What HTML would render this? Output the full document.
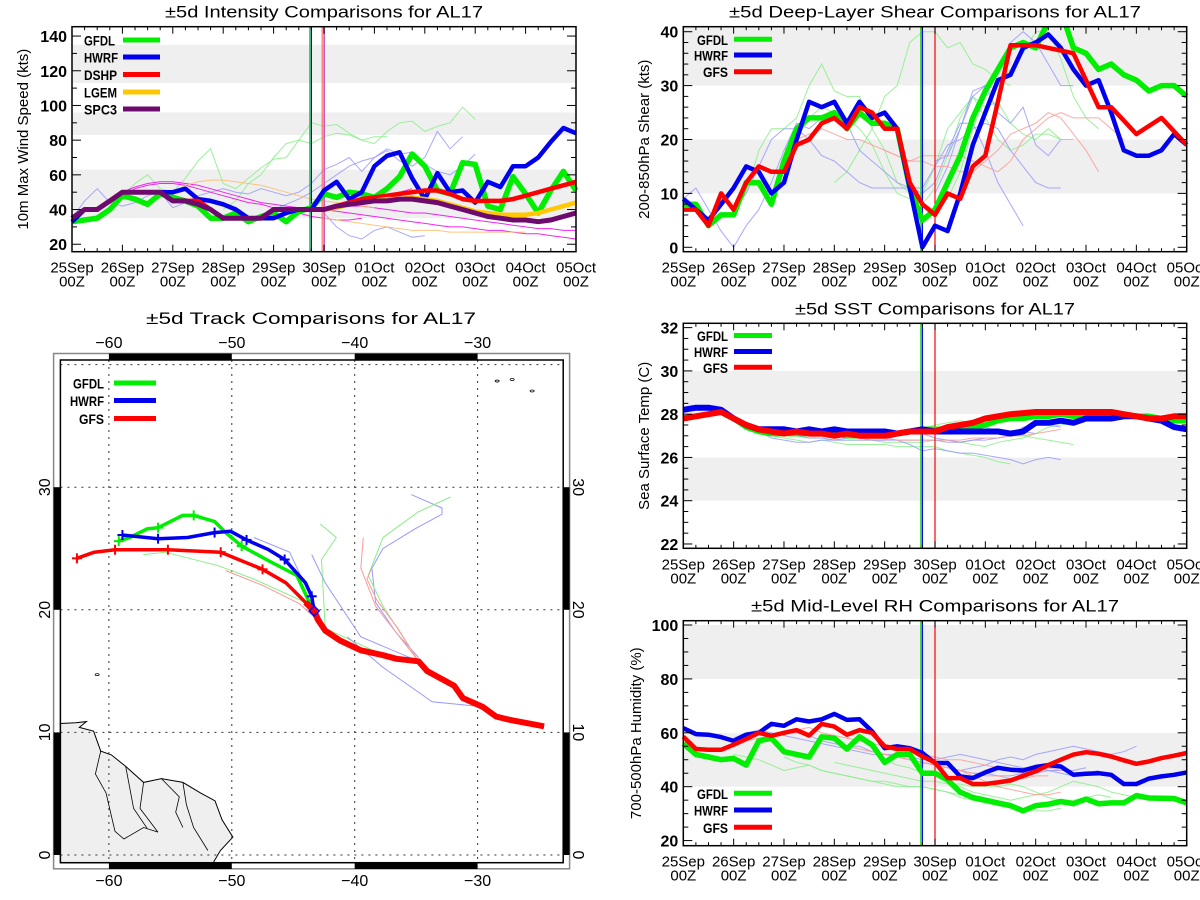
<!DOCTYPE html>
<html><head><meta charset="utf-8"><title>AL17 comparisons</title>
<style>
html,body{margin:0;padding:0;background:#fff;}
svg{display:block;font-family:"Liberation Sans",sans-serif;}
</style></head>
<body>
<svg id="root" xmlns="http://www.w3.org/2000/svg" width="1200" height="900" viewBox="0 0 1200 900">
<rect x="0" y="0" width="1200" height="900" fill="#fff"/>
</svg>
<script>
// ---------- DATA (6-hourly, index 0 = 25Sep 00Z, 40 = 05Oct 00Z) ----------
const dateLabels = ["25Sep","26Sep","27Sep","28Sep","29Sep","30Sep","01Oct","02Oct","03Oct","04Oct","05Oct"];
// Intensity (kts)
const intGFDL = [33,34,35,40,48,46,43,49,47,45,42,35,35,38,33,36,38,33,39,41,49,47,50,49,47,52,59,72,65,51,49,67,66,42,40,59,49,38,51,62,51];
const intHWRF = [33,40,40,45,50,50,50,50,50,52,46,45,43,40,35,35,35,38,40,40,51,56,46,50,65,71,73,58,46,61,50,51,44,56,53,65,65,70,79,87,84];
const intDSHP = [35,40,40,45,50,50,50,50,45,45,45,40,35,35,35,35,40,40,40,40,40,42,44,46,47,48,49,50,51,51,49,46,45,45,45,46,48,50,52,54,56];
const intLGEM = [null,null,null,null,null,null,null,null,null,null,null,null,null,null,null,null,null,null,null,null,40,41,43,44,45,46,46,47,46,45,43,41,39,38,37,37,37,38,40,42,44];
const intSPC3 = [35,40,40,45,50,50,50,50,45,45,43,40,35,35,35,35,40,40,40,40,40,42,43,44,45,45,46,46,45,44,42,40,38,36,35,34,34,33,34,36,38];
const intThinStart = [4,12,0,16,20,4,4,20,20,8,20];
const intThinColor = ["#8e8","#8e8","#99f","#99f","#99f","#e0e","#e0e","#e0e","#e0e","#fb6","#fb6"];
const intThinVals = [
 [48,55,60,52,50,58,68,75,55,52,58,64,69,70,80,90,88,89,84,80,82,82],
 [40,45,55,60,70,78,80,78,82,84,83,80,78,85,90,91,85,88,90,99,92],
 [35,45,52,44,42,44,48,50,41,44,48,50,52,50,49,52,50,48,50,55,63,66,70,62,70,74,68,65,70,85,75,82],
 [40,43,46,50,55,60,65,68,70,75,72,73,66,62,60,65,72],
 [38,30,25,23,28,30,27,24,25],
 [50,53,55,56,56,55,54,52,50,48,46,44,43,42,41,40,40,41,42,44,46,48,50,52],
 [48,52,54,55,55,54,52,50,48,46,44,43,41,40,38,36,35,34,34,35],
 [40,39,38,37,36,35,34,33,32,31,30,30,29,28,28,27,26,26,25,24,23],
 [40,41,42,42,41,40,39,38,38,37,36,35,34,33,32,31,30,29,29,28,28],
 [50,54,56,57,57,56,55,54,52,50,48,46,45,44,43,42,41],
 [35,34,33,32,31,30,29,28,28,28,27,27,27,27,27,27,27]
];
// Shear (kts)
const shrGFDL = [8,8,4,6,6,12,12,8,16,22,24,24,25,22,25,23,23,22,11,5,7,12,17,24,29,33,37,38,37,42,44,37,36,33,34,32,31,29,30,30,28];
const shrHWRF = [9,7,5,8,11,15,14,10,12,20,27,26,27,23,27,24,25,22,11,0,4,3,10,19,25,31,32,37,38,39.5,37,33,30,31,25,18,17,17,18,21,19];
const shrGFS  = [7,7,4,10,7,12,15,14,14,19,20,23,24,22,26,25,22,22,12,8,6,10,9,15,17,27,37.5,37.5,37.5,37,36.5,36,31,26,26,23.5,21,22.5,24,21.5,19];
const shrThinStart = [4,8,12,18,0,4,20,20,16,8];
const shrThinColor = ["#8e8","#8e8","#8e8","#8e8","#99f","#99f","#99f","#99f","#f99","#f99"];
const shrThinVals = [
 [7,10,18,22,22,24,30,34,29,28,28,22,18,12,10,8,7,9,14,22,28,30,33,36,40,40,35,28,24,22],
 [18,20,24,26,25,24,22,19,14,10,9,8,11,17,24,28,26,27,23,21,20,22,20,20],
 [12,14,18,22,28,30,38,40,40,37,38,34,33,31,30],
 [9,10,15,22,25,28,24,20,18,19,21,21,20,20],
 [9,11,7,3,0,4,7,12,18,23,22,24,25,23,18,16,14,12,11,11,15,19,20,22,23,22,18,15,12,11,11],
 [7,10,15,20,22,22,20,17,16,14,12,11,11,11,11,10,12,18,23,23,18,12,8,4],
 [10,15,22,29,30,25,23,26,19,17,20],
 [16,17,22,28,30,32,38,40,38,34,30,30],
 [18,17,16,17,17,17,17,16,15,14,16,20,22,24,25,24,24,24,22,20],
 [18,20,21,22,21,20,20,19,18,17,16,16,15,15,14,14,16,18,21,22,23,25,24,21,18,14]
];
// SST (C)
const sstGFDL = [27.8,27.9,28.0,28.1,27.8,27.4,27.2,27.1,27.1,27.1,27.1,27.1,27.1,27.0,27.0,27.0,27.0,27.1,27.2,27.3,27.3,27.3,27.3,27.4,27.5,27.7,27.8,27.8,27.9,27.9,28.0,27.9,28.0,28.0,28.0,28.0,27.9,27.9,27.8,27.7,27.7];
const sstHWRF = [28.2,28.3,28.3,28.2,27.8,27.5,27.3,27.3,27.3,27.2,27.3,27.2,27.3,27.2,27.2,27.2,27.2,27.1,27.2,27.3,27.2,27.2,27.2,27.2,27.2,27.2,27.1,27.2,27.6,27.6,27.7,27.6,27.8,27.8,27.8,27.9,27.9,27.8,27.7,27.4,27.3];
const sstGFS  = [27.8,27.9,28.0,28.1,27.8,27.5,27.3,27.2,27.1,27.2,27.1,27.1,27.0,27.1,27.0,27.0,27.0,27.1,27.2,27.2,27.2,27.4,27.5,27.6,27.8,27.9,28.0,28.05,28.1,28.1,28.1,28.1,28.1,28.1,28.1,28.0,27.9,27.8,27.8,27.9,27.9];
const sstThinStart = [4,8,12,16,4,8,16];
const sstThinColor = ["#8e8","#8e8","#8e8","#99f","#99f","#99f","#f99"];
const sstThinVals = [
 [27.8,27.4,27.1,27.0,26.9,26.8,26.7,26.8,26.7,26.6,26.6,26.6,26.6,26.5,26.5,26.5,26.5,26.3,26.2,26.1,26.0,25.8,25.7],
 [27.1,27.0,26.9,26.9,26.8,26.8,26.8,26.8,26.7,26.7,26.7,26.7,26.8,26.8,26.7,26.6,26.5,26.7,26.8,26.9,27.1,27.4,27.5,27.6,27.7,27.8],
 [27.1,27.0,27.0,26.9,26.9,27.0,27.2,27.3,27.5,27.6,27.7,27.6,27.4,27.2,27.0,27.0,26.9,26.8,26.7,26.6],
 [26.9,26.8,26.6,26.3,26.4,26.3,26.2,26.2,26.1,26.0,25.9,25.7,25.9,26.0,25.9],
 [27.8,27.5,27.2,26.9,26.8,26.7,26.7,26.8,26.8,26.9,26.9,26.8,26.8,27.0,27.2,27.1,26.9,26.8,26.7,26.8,26.8,26.9,27.0,27.4,27.5,27.5,27.4],
 [27.1,27.0,26.9,26.9,26.8,26.8,26.8,26.8,26.8,26.8,26.8,26.8,26.8,26.7,26.7,26.8,26.9,26.9,27.0,27.2,27.1],
 [26.9,26.8,26.8,26.8,26.8,26.8,26.8,26.9,26.9,26.9,27.0,27.0,27.1,27.2,27.3]
];
// Mid-level RH (%)
const rhGFDL = [56,52,51,50,50.5,48,57,58,53,52,51,58.5,58,54,58.5,55.5,49,52,52,45,45,42.5,38,36,35,34,33,31,33,33.5,34.5,33.7,35.4,33.7,34,34,36.7,35.8,35.7,35.6,34];
const rhHWRF = [61.7,59.5,59.3,58.4,57,59.3,60,63.3,62.6,65,64.2,65,67,64.8,65,60.5,54.3,55,54.3,52.5,48.8,48.8,43.8,43.2,45.3,47,46.3,46,47.3,48,47.5,44.4,44.8,45,44.4,41,41,43,43.8,44.4,45.3];
const rhGFS  = [58.6,54,53.7,53.7,55.6,57.7,60,58.9,60,61,59,63.3,62.3,59.3,61,60,55,54,54,51.2,49,43.2,43.2,41,41,41.6,42.3,44,45.7,48,50,51.9,52.8,52.2,51.2,49.8,48.5,49.4,50.6,51.5,52.5];
const rhThinStart = [4,8,12,16,4,8,16,4,12,16];
const rhThinColor = ["#8e8","#8e8","#8e8","#8e8","#99f","#99f","#99f","#f99","#f99","#f99"];
const rhThinVals = [
 [52,51,50,48,46,47,48,46,45,44,43,42,41,40,40,40,39,38,37],
 [51,49,48,46,45,44,43,42,42,41,40,40,39,38,36,35,34,33,32,31,31,31,32],
 [49,48,47,46,45,44,43,42,42,41,41,40,40,40,41,40,38,36,35,35,36,37,36],
 [50,48,47,45,44,42,40,38,37,36,35,36,37,38,40,42,41,40,38,37,36],
 [58,60,61,60,59,58,57,56,55,54,53,52,52,51,50,49,48,47,46,47,48,50,51,50,52,53,54,55,54,53,52,53,55],
 [60,60,59,57,56,55,55,53,52,52,51,50,50,51,52,51,50,49,48,47,47,46,45,44,45,46],
 [52,51,50,49,48,47,46,45,45,44,44,45,45,46,46,46,47],
 [56,57,58,59,60,61,62,60,59,58,57,56,55,54,53,52,51,50,50,49,48,47,46,45,46,47,46],
 [57,55,54,53,52,51,50,49,48,47,46,44,42,40,39,38,37,37,38],
 [52,51,50,49,48,47,46,45,44,44,43,43,44,44]
];
// Tracks (lon, lat)
const trkGFSLon  = [-24.6,-27.3,-28.5,-29.6,-31.2,-31.9,-34.1,-34.8,-36.6,-37.7,-39.5,-41.2,-42.4,-43.0,-43.3,-44.0,-45.6,-47.5,-50.9,-55.2,-59.5,-61.2,-62.6];
const trkGFSLat  = [10.5,11.0,11.3,12.1,12.8,13.8,15.0,15.8,16.0,16.3,16.7,17.5,18.3,19.2,19.9,20.6,22.2,23.3,24.7,24.9,24.9,24.7,24.2];
const trkHWRFLon = [-24.6,-27.3,-28.5,-29.6,-31.2,-31.9,-34.1,-34.8,-36.6,-37.7,-39.5,-41.2,-42.4,-43.0,-43.3,-43.5,-44.0,-45.7,-47.0,-48.8,-50.1,-51.4,-53.6,-56.0,-58.9];
const trkHWRFLat = [10.5,11.0,11.3,12.1,12.8,13.8,15.0,15.8,16.0,16.3,16.7,17.5,18.3,19.2,19.9,21.1,22.2,24.1,24.9,25.7,26.4,26.3,25.9,25.8,26.1];
const trkGFDLLon = [-24.6,-27.3,-28.5,-29.6,-31.2,-31.9,-34.1,-34.8,-36.6,-37.7,-39.5,-41.2,-42.4,-43.0,-43.6,-44.7,-47.2,-49.2,-50.5,-51.4,-53.1,-54.0,-56.0,-56.9,-58.3,-59.2];
const trkGFDLLat = [10.5,11.0,11.3,12.1,12.8,13.8,15.0,15.8,16.0,16.3,16.7,17.5,18.3,19.2,20.4,22.8,24.1,25.2,26.3,27.2,27.7,27.7,26.7,26.6,25.9,25.6];
const trkGFSMarks = [17,18,19,20,22];
const trkHWRFMarks = [15,17,19,21,23,24];
const trkGFDLMarks = [17,20,22,25];
const thinTrkColor = ["#99f","#8e8","#f99","#8e8","#99f","#99f","#8e8","#99f","#f99","#f99"];
const thinTrkLon = [
 [-34.8,-36.6,-38.3,-38.6,-37.7,-35.1,-32.9,-32.9,-35.4],
 [-34.8,-37.7,-38.9,-37.7,-34.8,-32.2],
 [-34.8,-38.3,-39.5,-39.3],
 [-37.7,-42.4,-42.7,-41.5,-42.8],
 [-34.8,-39.5,-42.4,-43.5],
 [-42.4,-45.3,-48.2],
 [-44.0,-48.2,-51.1,-55.4,-57.2],
 [-29.6,-33.7,-37.7,-40.6],
 [-34.8,-36.5,-38.2,-39.0,-38.6],
 [-41.2,-44.5,-47.5,-50.5]
];
const thinTrkLat = [
 [16.1,18.1,20.6,23.4,25.0,26.6,27.8,28.3,29.4],
 [15.8,20.3,22.8,25.9,28.0,29.2],
 [15.8,20.3,23.4,25.9],
 [16.3,18.5,24.1,25.9,27.0],
 [15.8,17.8,22.2,24.5],
 [18.5,24.7,25.9],
 [20.6,22.5,23.6,24.7,24.5],
 [12.1,12.5,15.3,17.8],
 [15.8,18.5,20.8,22.5,23.4],
 [17.5,20.5,22.0,23.2]
];
// ---------- DRAWING ----------
const NS = "http://www.w3.org/2000/svg";
const root = document.getElementById("root");
function el(tag, attrs, parent) {
  const e = document.createElementNS(NS, tag);
  for (const k in attrs) e.setAttribute(k, attrs[k]);
  (parent || root).appendChild(e);
  return e;
}
function txt(s, attrs, parent) { const t = el("text", attrs, parent); t.textContent = s; return t; }
const legLen = {GFDL: 31, HWRF: 34, DSHP: 33, LGEM: 33, SPC3: 33, GFS: 25};

function timePanel(cfg) {
  const g = el("g", {});
  
  
  const X0 = cfg.x0, X1 = cfg.x1, Y0 = cfg.y0, Y1 = cfg.y1;
  const sx = i => X0 + (X1 - X0) * (i / 40);
  const sy = v => Y1 - (v - cfg.vmin) / (cfg.vmax - cfg.vmin) * (Y1 - Y0);
  cfg.bands.forEach(b => {
    const r = el("rect", {x: X0, y: sy(Math.min(b[1], cfg.vmax)), width: X1 - X0, height: sy(b[0]) - sy(Math.min(b[1], cfg.vmax)), fill: "#efefef"}, g);
    
    
  });
  cfg.thin.vals.forEach((arr, k) => {
    const pts = arr.map((v, j) => sx(cfg.thin.start[k] + j).toFixed(1) + "," + sy(v).toFixed(1)).join(" ");
    const p = el("polyline", {points: pts, fill: "none", stroke: cfg.thin.color[k], "stroke-width": 1, opacity: 0.85}, g);
    
    
  });
  const vl = (day, col, w, op) => {
    const l = el("line", {x1: X0 + (X1 - X0) * day / 10, x2: X0 + (X1 - X0) * day / 10, y1: Y0, y2: Y1, stroke: col, "stroke-width": w, opacity: op}, g);
    
    
  };
  if (cfg.redBand) { vl(4.985, "#f66", 3.5, 0.75); vl(5.01, "#b5b", 1, 0.8); }
  else vl(5.0, "#f00", 1.2, 1);
  vl(4.72, "#0c0", 1.2, 1);
  vl(4.75, "#00f", 1.2, 1);
  cfg.series.forEach(s => {
    let segs = [], cur = [];
    s.vals.forEach((v, i) => {
      if (v === null) { if (cur.length) segs.push(cur); cur = []; }
      else cur.push(sx(i).toFixed(1) + "," + sy(v).toFixed(1));
    });
    if (cur.length) segs.push(cur);
    segs.forEach(sg => {
      const p = el("polyline", {points: sg.join(" "), fill: "none", stroke: s.color, "stroke-width": s.w || 4.5, "stroke-linejoin": "round"}, g);
      
      
    });
  });
  el("rect", {x: X0 - 1, y: Y0 - 30, width: X1 - X0 + 2, height: 29.5, fill: "#fff"}, g);
  const fr = el("rect", {x: X0, y: Y0, width: X1 - X0, height: Y1 - Y0, fill: "none", stroke: "#000", "stroke-width": 1.5}, g);
  
  
  for (let i = 0; i <= 40; i++) {
    const x = sx(i), L = i % 4 === 0 ? 7 : 3.5;
    el("line", {x1: x, x2: x, y1: Y1, y2: Y1 - L, stroke: "#000", "stroke-width": 1}, g);
    el("line", {x1: x, x2: x, y1: Y0, y2: Y0 + L, stroke: "#000", "stroke-width": 1}, g);
  }
  dateLabels.forEach((d, k) => {
    const x = X0 + (X1 - X0) * k / 10;
    const t1 = txt(d, {x: x, y: Y1 + 21, "text-anchor": "middle", "font-size": 15}, g);
    
    
    const t2 = txt("00Z", {x: x, y: Y1 + 35, "text-anchor": "middle", "font-size": 15}, g);
    
    
  });
  for (let v = cfg.tick0; v <= cfg.vmax + 1e-6; v += cfg.minor) {
    if (v < cfg.vmin) continue;
    const y = sy(v), major = Math.abs(((v - cfg.tick0) / cfg.major) - Math.round((v - cfg.tick0) / cfg.major)) < 1e-6;
    const L = major ? 9 : 5;
    el("line", {x1: X0, x2: X0 + L, y1: y, y2: y, stroke: "#000", "stroke-width": 1}, g);
    el("line", {x1: X1, x2: X1 - L, y1: y, y2: y, stroke: "#000", "stroke-width": 1}, g);
    if (major) {
      const t = txt(String(v), {x: X0 - 5, y: y + 6, "text-anchor": "end", "font-size": 16, "font-weight": "bold"}, g);
      
      
    }
  }
  const ttl = txt(cfg.title, {x: (X0 + X1) / 2, y: Y0 - 9, "text-anchor": "middle", "font-size": 17, textLength: cfg.titleLen, lengthAdjust: "spacingAndGlyphs"}, g);
  
  
  const yc = (Y0 + Y1) / 2;
  const yl = txt(cfg.ylabel, {x: cfg.ylx, y: yc, "text-anchor": "middle", "font-size": 15, transform: `rotate(-90 ${cfg.ylx} ${yc})`, "dominant-baseline": "middle"}, g);
  
  
  cfg.legend.forEach((e, k) => {
    const y = cfg.legY[k];
    const lg = el("g", {}, g);
    
    
    txt(e.label, {x: cfg.legTextX, y: y + 5.5, "text-anchor": cfg.legAnchor, "font-size": 14, "font-weight": "bold", textLength: legLen[e.label], lengthAdjust: "spacingAndGlyphs"}, lg);
    el("line", {x1: cfg.legLine[0], x2: cfg.legLine[1], y1: y, y2: y, stroke: e.color, "stroke-width": 5}, lg);
  });
}

const GREEN = "#00ee00", BLUE = "#0000ee", RED = "#ff0000", ORANGE = "#ffc800", PURPLE = "#6e0a6e";

timePanel({name: "intensity-panel", x0: 72, x1: 576, y0: 26.7, y1: 251.7, vmin: 15.7, vmax: 145.4,
  tick0: 20, major: 20, minor: 10, bands: [[35, 63], [83, 96], [113, 135]],
  title: "±5d Intensity Comparisons for AL17", titleLen: 318, ylabel: "10m Max Wind Speed (kts)", ylx: 24, redBand: true,
  thin: {start: intThinStart, color: intThinColor, vals: intThinVals},
  series: [{label: "GFDL", color: GREEN, vals: intGFDL, w: 5.5}, {label: "HWRF", color: BLUE, vals: intHWRF}, {label: "DSHP", color: RED, vals: intDSHP},
           {label: "LGEM", color: ORANGE, vals: intLGEM}, {label: "SPC3", color: PURPLE, vals: intSPC3, w: 5}],
  legend: [{label: "GFDL", color: GREEN}, {label: "HWRF", color: BLUE}, {label: "DSHP", color: RED}, {label: "LGEM", color: ORANGE}, {label: "SPC3", color: PURPLE}],
  legY: [40, 57, 74.5, 92, 109], legTextX: 84, legAnchor: "start", legLine: [123, 160]});

timePanel({name: "shear-panel", x0: 683.3, x1: 1186.7, y0: 26.7, y1: 251.7, vmin: -0.82, vmax: 40.93,
  tick0: 0, major: 10, minor: 2, bands: [[10, 20], [30, 41]],
  title: "±5d Deep-Layer Shear Comparisons for AL17", titleLen: 412, ylabel: "200-850hPa Shear (kts)", ylx: 645,
  thin: {start: shrThinStart, color: shrThinColor, vals: shrThinVals},
  series: [{label: "GFDL", color: GREEN, vals: shrGFDL, w: 5.5}, {label: "HWRF", color: BLUE, vals: shrHWRF}, {label: "GFS", color: RED, vals: shrGFS}],
  legend: [{label: "GFDL", color: GREEN}, {label: "HWRF", color: BLUE}, {label: "GFS", color: RED}],
  legY: [39.3, 55, 71.7], legTextX: 728, legAnchor: "end", legLine: [734, 772]});

timePanel({name: "sst-panel", x0: 683.3, x1: 1186.7, y0: 323.3, y1: 548.3, vmin: 21.8, vmax: 32.2,
  tick0: 22, major: 2, minor: 0.5, bands: [[24, 26], [28, 30]],
  title: "±5d SST Comparisons for AL17", titleLen: 280, ylabel: "Sea Surface Temp (C)", ylx: 645,
  thin: {start: sstThinStart, color: sstThinColor, vals: sstThinVals},
  series: [{label: "GFDL", color: GREEN, vals: sstGFDL, w: 5.5}, {label: "HWRF", color: BLUE, vals: sstHWRF, w: 6}, {label: "GFS", color: RED, vals: sstGFS, w: 6}],
  legend: [{label: "GFDL", color: GREEN}, {label: "HWRF", color: BLUE}, {label: "GFS", color: RED}],
  legY: [335.5, 351.5, 367.3], legTextX: 728, legAnchor: "end", legLine: [734, 772]});

timePanel({name: "rh-panel", x0: 683.3, x1: 1186.7, y0: 620.7, y1: 845.7, vmin: 18.1, vmax: 101.6,
  tick0: 20, major: 20, minor: 5, bands: [[40, 60], [80, 100]],
  title: "±5d Mid-Level RH Comparisons for AL17", titleLen: 368, ylabel: "700-500hPa Humidity (%)", ylx: 637,
  thin: {start: rhThinStart, color: rhThinColor, vals: rhThinVals},
  series: [{label: "GFDL", color: GREEN, vals: rhGFDL, w: 5.5}, {label: "HWRF", color: BLUE, vals: rhHWRF}, {label: "GFS", color: RED, vals: rhGFS}],
  legend: [{label: "GFDL", color: GREEN}, {label: "HWRF", color: BLUE}, {label: "GFS", color: RED}],
  legY: [793.3, 810, 827.3], legTextX: 728, legAnchor: "end", legLine: [734, 772]});

// ---------- TRACK MAP ----------
(function () {
  const g = el("g", {});
  
  
  const IX0 = 60.4, IX1 = 563.2, IY0 = 360, IY1 = 862.7;
  const px = lon => 108.9 + (lon + 60) * 12.29;
  const py = lat => 855 - lat * 12.26;
  const zp = (zx, zy) => [40 + zx / 2.8, 300 + zy / 2.616];
  const landZ = [[57,1108],[100,1106],[130,1103],[110,1118],[150,1128],[170,1180],[200,1190],[240,1220],[290,1262],[340,1252],[400,1262],[450,1290],[490,1310],[510,1360],[540,1405],[505,1440],[485,1472],[57,1472]];
  const land = el("polygon", {points: landZ.map(p => zp(p[0], p[1]).map(v => v.toFixed(1)).join(",")).join(" "), fill: "#efefef", stroke: "#000", "stroke-width": 1}, g);
  
  
  const borders = [[[170,1180],[155,1240],[185,1290],[195,1330],[210,1390],[235,1410],[290,1380],[330,1392]],
                   [[240,1220],[262,1330],[300,1382]],
                   [[290,1262],[280,1330],[330,1392]],
                   [[340,1252],[390,1300],[380,1340],[400,1380]],
                   [[400,1262],[410,1320],[430,1380],[470,1440]]];
  borders.forEach(b => {
    const l = el("polyline", {points: b.map(p => zp(p[0], p[1]).map(v => v.toFixed(1)).join(",")).join(" "), fill: "none", stroke: "#000", "stroke-width": 0.8}, g);
    
    
  });
  [[1280,212],[1322,208],[1378,238],[160,980]].forEach(p => {
    const q = zp(p[0], p[1]);
    el("ellipse", {cx: q[0], cy: q[1], rx: 2, ry: 1, fill: "none", stroke: "#000", "stroke-width": 0.8}, g);
  });
  [-60, -50, -40, -30].forEach(lon => {
    const l = el("line", {x1: px(lon), x2: px(lon), y1: IY0, y2: IY1, stroke: "#333", "stroke-width": 1, "stroke-dasharray": "2,5"}, g);
    
    
  });
  [0, 10, 20, 30, 40].forEach(lat => {
    const l = el("line", {x1: IX0, x2: IX1, y1: py(lat), y2: py(lat), stroke: "#333", "stroke-width": 1, "stroke-dasharray": "2,5"}, g);
    
    
  });
  thinTrkLon.forEach((lons, k) => {
    const pts = lons.map((lo, j) => px(lo).toFixed(1) + "," + py(thinTrkLat[k][j]).toFixed(1)).join(" ");
    const p = el("polyline", {points: pts, fill: "none", stroke: thinTrkColor[k], "stroke-width": 1}, g);
    
    
  });
  function track(name, lons, lats, marks, col, w) {
    const pts = lons.map((lo, j) => px(lo).toFixed(1) + "," + py(lats[j]).toFixed(1)).join(" ");
    const p = el("polyline", {points: pts, fill: "none", stroke: col, "stroke-width": w, "stroke-linejoin": "round"}, g);
    
    
    marks.forEach(j => {
      const x = px(lons[j]), y = py(lats[j]);
      el("line", {x1: x - 5, x2: x + 5, y1: y, y2: y, stroke: col, "stroke-width": 2}, g);
      el("line", {x1: x, x2: x, y1: y - 5, y2: y + 5, stroke: col, "stroke-width": 2}, g);
    });
  }
  track("track-gfdl", trkGFDLLon, trkGFDLLat, trkGFDLMarks, GREEN, 3.5);
  track("track-hwrf", trkHWRFLon, trkHWRFLat, trkHWRFMarks, BLUE, 3.5);
  track("track-gfs", trkGFSLon, trkGFSLat, trkGFSMarks, RED, 3.5);
  const common = el("polyline", {points: trkGFSLon.slice(0, 16).map((lo, j) => px(lo).toFixed(1) + "," + py(trkGFSLat[j]).toFixed(1)).join(" "), fill: "none", stroke: RED, "stroke-width": 6, "stroke-linejoin": "round"}, g);
  
  
  const dm = el("rect", {x: px(-43.3) - 3.5, y: py(19.9) - 3.5, width: 7, height: 7, fill: "none", stroke: BLUE, "stroke-width": 1.5, transform: `rotate(45 ${px(-43.3)} ${py(19.9)})`}, g);
  
  
  el("rect", {x: 53.6, y: 353.5, width: 516, height: 515.3, fill: "none", stroke: "#888", "stroke-width": 1.5}, g);
  const bar = (x, y, w, h) => { const r = el("rect", {x: x, y: y, width: w, height: h, fill: "#000"}, g);   };
  [[-60, -50], [-40, -30]].forEach(b => { bar(px(b[0]), 353.5, px(b[1]) - px(b[0]), 6.5); bar(px(b[0]), 862.7, px(b[1]) - px(b[0]), 6.3); });
  [[0, 10], [20, 30]].forEach(b => { bar(53.6, py(b[1]), 6.8, py(b[0]) - py(b[1])); bar(563.2, py(b[1]), 6.4, py(b[0]) - py(b[1])); });
  el("rect", {x: IX0, y: IY0, width: IX1 - IX0, height: IY1 - IY0, fill: "none", stroke: "#000", "stroke-width": 1.5}, g);
  [-60, -50, -40, -30].forEach(lon => {
    const a = txt("\u2212" + Math.abs(lon), {x: px(lon), y: 348, "text-anchor": "middle", "font-size": 16}, g);
    
    
    const b = txt("\u2212" + Math.abs(lon), {x: px(lon), y: 886, "text-anchor": "middle", "font-size": 16}, g);
    
    
  });
  [0, 10, 20, 30].forEach(lat => {
    const y = py(lat);
    const a = txt(String(lat), {x: 46, y: y, "text-anchor": "middle", "font-size": 16, "dominant-baseline": "middle", transform: `rotate(-90 46 ${y})`}, g);
    
    
    const b = txt(String(lat), {x: 577, y: y, "text-anchor": "middle", "font-size": 16, "dominant-baseline": "middle", transform: `rotate(90 577 ${y})`}, g);
    
    
  });
  const t = txt("±5d Track Comparisons for AL17", {x: 311, y: 324, "text-anchor": "middle", "font-size": 17, textLength: 330, lengthAdjust: "spacingAndGlyphs"}, g);
  
  
  [["GFDL", GREEN, 383], ["HWRF", BLUE, 400.5], ["GFS", RED, 418.5]].forEach(e => {
    const lg = el("g", {}, g);
    
    
    txt(e[0], {x: 104, y: e[2] + 5.5, "text-anchor": "end", "font-size": 14, "font-weight": "bold", textLength: legLen[e[0]], lengthAdjust: "spacingAndGlyphs"}, lg);
    el("line", {x1: 114, x2: 156, y1: e[2], y2: e[2], stroke: e[1], "stroke-width": 5}, lg);
  });
})();
</script>
</body></html>
